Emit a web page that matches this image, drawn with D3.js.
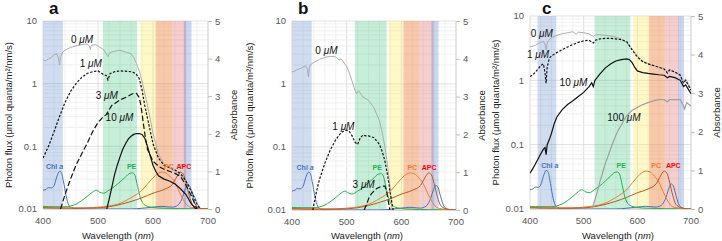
<!DOCTYPE html>
<html>
<head>
<meta charset="utf-8">
<script src="https://cdn.jsdelivr.net/npm/d3@7"></script>
<style>
  body { margin: 0; background: #fff; }
  svg { display: block; font-family: "Liberation Sans", Arial, sans-serif; }
</style>
</head>
<body>
<svg id="chart" width="722" height="241"></svg>
<script>
// ---- pigment absorbance spectra (right axis, same in every panel) ----
const chlWl = [400,405,410,415,420,425,430,433,437,442,447,452,460,500,560,580,600,615,625,635,645,652,658,663,667,672,678,685,690,700];
const chlAbs = [0.5,0.52,0.57,0.56,0.62,0.85,1.0,0.98,0.75,0.35,0.1,0.03,0.01,0,0,0.02,0.05,0.07,0.06,0.05,0.1,0.25,0.5,0.65,0.6,0.35,0.1,0.02,0.01,0];
const peWl = [400,420,440,450,460,470,480,490,497,503,510,520,530,540,550,558,563,567,572,577,582,590,600,620,650,700];
const peAbs = [0.07,0.06,0.06,0.08,0.13,0.22,0.33,0.45,0.5,0.45,0.42,0.5,0.6,0.72,0.85,0.95,0.96,0.9,0.6,0.3,0.15,0.07,0.04,0.02,0.01,0];
const pcWl = [400,450,480,500,520,540,560,580,595,605,615,622,630,640,648,655,662,670,680,700];
const pcAbs = [0.04,0.03,0.03,0.05,0.08,0.15,0.3,0.5,0.75,0.9,0.98,0.97,0.88,0.7,0.45,0.25,0.1,0.04,0.02,0];
const apcWl = [400,450,500,520,540,560,580,600,620,635,643,650,655,660,666,672,680,690,700];
const apcAbs = [0.03,0.02,0.03,0.06,0.12,0.2,0.3,0.42,0.52,0.65,0.85,0.98,0.93,0.7,0.35,0.12,0.04,0.01,0];

const pigmentNames = ["Chl a", "PE", "PC", "APC"];

// ---- panel a: photon flux (left axis, log) ----
const aWl0 = [400,405,410,415,420,425,428,430,432,436,440,450,460,470,480,484,486,488,495,500,510,515,518,521,525,530,540,550,560,565,570,575,580,585,590,600,610,620,630,640,650,660,670,680,685];
const aFlux0 = [2.4,2.3,2.5,2.6,2.9,3.0,2.6,2.0,2.7,3.2,3.4,3.8,4.0,4.2,4.3,4.0,3.5,4.1,4.2,4.0,3.5,3.0,2.7,3.1,3.2,3.3,3.4,3.2,3.0,2.6,2.1,1.6,1.1,0.7,0.45,0.16,0.075,0.052,0.045,0.04,0.035,0.028,0.02,0.013,0.01];
const aWl1 = [400,410,420,430,440,450,460,470,480,490,500,505,510,515,518,522,530,540,550,560,565,570,575,580,585,590,600,610,620,630,640,650,660,670,680,686];
const aFlux1 = [0.065,0.1,0.17,0.3,0.5,0.75,1.0,1.25,1.45,1.55,1.6,1.5,1.4,1.35,1.15,1.45,1.55,1.6,1.58,1.55,1.5,1.4,1.2,0.8,0.45,0.28,0.11,0.065,0.05,0.046,0.042,0.037,0.028,0.019,0.012,0.01];
const aWl3 = [432,440,450,460,470,480,490,500,510,515,520,525,530,540,550,560,565,570,575,578,582,586,590,600,610,620,630,640,650,660,670,680];
const aFlux3 = [0.01,0.017,0.03,0.05,0.075,0.11,0.17,0.24,0.3,0.32,0.38,0.45,0.48,0.55,0.6,0.67,0.7,0.7,0.6,0.45,0.25,0.14,0.09,0.058,0.048,0.043,0.04,0.037,0.033,0.024,0.016,0.01];
const aWl10 = [516,520,525,530,535,540,545,550,555,560,565,570,575,580,585,590,595,600,605,610,620,630,640,650,660,670,678];
const aFlux10 = [0.01,0.014,0.022,0.035,0.05,0.068,0.09,0.11,0.13,0.145,0.155,0.16,0.16,0.155,0.135,0.1,0.07,0.05,0.04,0.034,0.03,0.028,0.025,0.021,0.017,0.012,0.01];
const aConc = ["0", "1", "3", "10"];
const aLabelWl = [471, 487, 516, 539];
const aLabelFlux = [5.2, 2.1, 0.67, 0.29];
const aBandStart = [400, 509, 577, 605, 635, 656];
const aBandEnd = [436, 571, 605, 635, 660, 670];
const aPigLabelWl = [421, 561, 629, 656];

// ---- panel b ----
const bWl0 = [400,405,410,415,420,425,428,430,432,436,440,450,460,470,480,486,490,500,505,510,515,518,522,530,540,550,560,565,570,575,580,583];
const bFlux0 = [1.55,1.6,1.7,1.75,1.85,1.95,1.7,1.3,1.9,2.1,2.2,2.45,2.65,2.75,2.7,2.4,2.5,1.9,1.5,1.1,0.8,0.7,0.78,0.62,0.55,0.42,0.26,0.17,0.1,0.05,0.02,0.01];
const bWl1 = [438,445,450,460,470,480,490,495,500,505,510,515,520,525,530,535,540,550,560,565,570,575,580,585];
const bFlux1 = [0.01,0.02,0.03,0.055,0.09,0.13,0.17,0.18,0.185,0.175,0.15,0.12,0.11,0.14,0.155,0.15,0.15,0.14,0.11,0.085,0.06,0.035,0.018,0.01];
const bWl3 = [532,536,540,545,550,555,560,565,570,573,576,579];
const bFlux3 = [0.01,0.012,0.015,0.018,0.02,0.022,0.023,0.024,0.024,0.02,0.014,0.01];
const bConc = ["0", "1", "3"];
const bLabelWl = [463, 494, 531];
const bLabelFlux = [3.5, 0.215, 0.026];
const bBandStart = [400, 515, 577, 604, 633, 655];
const bBandEnd = [436, 573, 604, 633, 659, 668];
const bPigLabelWl = [424, 556, 620, 651];

// ---- panel c ----
const cWl0 = [400,410,420,425,428,430,432,436,440,450,460,470,480,486,490,500,510,518,522,530,540,550,560,570,580,590,600,610,620,630,640,650,656,660,670,680,686,688,690,700];
const cFlux0 = [3.3,3.5,3.9,4.0,3.6,3.0,3.8,4.3,4.6,5.0,5.3,5.5,5.7,5.2,5.6,5.5,5.3,4.8,5.1,5.1,5.0,4.9,4.7,4.4,3.9,3.1,2.4,2.0,1.8,1.7,1.6,1.5,1.35,1.45,1.35,1.2,0.9,1.0,1.05,0.75];
const cWl1 = [400,405,410,415,420,425,428,430,432,436,440,450,460,470,480,490,500,510,518,522,530,540,550,560,570,580,590,600,610,620,630,640,650,656,660,670,680,686,690,700];
const cFlux1 = [1.15,1.2,1.35,1.5,1.7,1.8,1.3,0.9,1.6,2.2,2.4,2.7,3.0,3.3,3.6,3.9,4.1,4.2,3.8,4.2,4.4,4.5,4.5,4.4,4.3,4.0,3.0,2.3,1.95,1.8,1.7,1.6,1.5,1.3,1.45,1.35,1.2,0.9,1.0,0.7];
const cWl10 = [400,405,410,415,420,425,428,430,432,436,440,445,450,460,470,480,490,500,510,515,518,521,525,530,540,550,560,570,580,585,590,595,600,610,620,630,640,650,656,660,670,680,686,690,700];
const cFlux10 = [0.036,0.042,0.05,0.06,0.072,0.085,0.09,0.07,0.1,0.12,0.15,0.21,0.27,0.35,0.42,0.48,0.56,0.65,0.8,0.92,0.8,1.0,1.1,1.25,1.55,1.8,2.0,2.1,2.15,2.1,1.9,1.6,1.4,1.32,1.28,1.25,1.22,1.2,1.1,1.15,1.1,1.0,0.8,0.85,0.62];
const cWl100 = [516,520,525,530,535,540,545,550,555,560,565,570,575,580,590,600,610,620,630,640,650,656,660,670,680,686,688,692,700];
const cFlux100 = [0.01,0.013,0.018,0.026,0.036,0.05,0.065,0.085,0.11,0.14,0.17,0.2,0.24,0.28,0.34,0.38,0.42,0.45,0.48,0.5,0.5,0.46,0.5,0.5,0.5,0.4,0.36,0.45,0.4];
const cConc = ["0", "1", "10", "100"];
const cLabelWl = [422, 415, 481, 575];
const cLabelFlux = [5.4, 2.6, 0.95, 0.27];
const cBandStart = [414, 521, 592, 622, 651, 676];
const cBandEnd = [449, 587, 622, 651, 677, 687];
const cPigLabelWl = [437, 570, 635, 667];

// ---- styles ----
const bandFill = ["#4472c4", "#00b050", "#ffe94a", "#ed7d31", "#e06666", "#4472c4"];
const bandOpacity = [0.25, 0.22, 0.3, 0.42, 0.32, 0.28];
const pigColor = ["#4472c4", "#22b24c", "#ed7d31", "#b55a1e"];
const pigLabelColor = ["#4472c4", "#22b24c", "#ed7d31", "#ff0000"];
const fluxStyle = {
  "0":   { stroke: "#a6a6a6", width: 0.9, dash: null },
  "1":   { stroke: "#111", width: 1.2, dash: "2.4,1.6" },
  "3":   { stroke: "#111", width: 1.2, dash: "5.5,2.5" },
  "10":  { stroke: "#111", width: 1.2, dash: null },
  "100": { stroke: "#a0a0a0", width: 1.2, dash: null },
};

const zip = (xs, ys) => xs.map((w, i) => [w, ys[i]]);

const panels = [
  { id: "a", left: 43, right: 208, top: 21, bottom: 209, titleX: 118, yTitleX: 8, letterX: 49, letterY: 14,
    flux: [zip(aWl0, aFlux0), zip(aWl1, aFlux1), zip(aWl3, aFlux3), zip(aWl10, aFlux10)],
    conc: aConc, labelWl: aLabelWl, labelFlux: aLabelFlux,
    bandStart: aBandStart, bandEnd: aBandEnd, pigLabelWl: aPigLabelWl },
  { id: "b", left: 292, right: 456, top: 21, bottom: 210, titleX: 367, yTitleX: 249, letterX: 298, letterY: 14,
    flux: [zip(bWl0, bFlux0), zip(bWl1, bFlux1), zip(bWl3, bFlux3)],
    conc: bConc, labelWl: bLabelWl, labelFlux: bLabelFlux,
    bandStart: bBandStart, bandEnd: bBandEnd, pigLabelWl: bPigLabelWl },
  { id: "c", left: 530, right: 691, top: 16, bottom: 209, titleX: 618, yTitleX: 495, letterX: 542, letterY: 14,
    flux: [zip(cWl0, cFlux0), zip(cWl1, cFlux1), zip(cWl10, cFlux10), zip(cWl100, cFlux100)],
    conc: cConc, labelWl: cLabelWl, labelFlux: cLabelFlux,
    bandStart: cBandStart, bandEnd: cBandEnd, pigLabelWl: cPigLabelWl },
];

const pigments = [zip(chlWl, chlAbs), zip(peWl, peAbs), zip(pcWl, pcAbs), zip(apcWl, apcAbs)];

const svg = d3.select("#chart");

function drawPanel(p) {
  const x = d3.scaleLinear().domain([400, 700]).range([p.left, p.right]);
  const y = d3.scaleLog().domain([0.01, 10]).range([p.bottom, p.top]);
  const yAbs = d3.scaleLinear().domain([0, 5]).range([p.bottom, p.top]);
  const g = svg.append("g").attr("class", "panel-" + p.id);

  // clip region for the curves
  svg.append("clipPath").attr("id", "clip-" + p.id)
    .append("rect")
    .attr("x", p.left).attr("y", p.top)
    .attr("width", p.right - p.left).attr("height", p.bottom - p.top);

  // grid
  g.selectAll("line.gx").data(d3.range(420, 700, 20)).join("line")
    .attr("class", "gx")
    .attr("x1", x).attr("x2", x).attr("y1", p.top).attr("y2", p.bottom)
    .attr("stroke", (d) => (d % 100 === 0 ? "#d9d9d9" : "#eeeeee")).attr("stroke-width", 0.8);
  g.selectAll("line.gy").data(y.ticks()).join("line")
    .attr("class", "gy")
    .attr("x1", p.left).attr("x2", p.right).attr("y1", y).attr("y2", y)
    .attr("stroke", (d) => (Math.abs(Math.log10(d) % 1) < 1e-6 ? "#d9d9d9" : "#eeeeee")).attr("stroke-width", 0.8);

  // coloured pigment bands
  g.selectAll("rect.band").data(p.bandStart).join("rect")
    .attr("class", "band")
    .attr("x", (d) => x(d))
    .attr("width", (d, i) => x(p.bandEnd[i]) - x(d))
    .attr("y", p.top).attr("height", p.bottom - p.top)
    .attr("fill", (d, i) => bandFill[i]).attr("fill-opacity", (d, i) => bandOpacity[i]);

  // axes lines
  g.append("line").attr("x1", p.left).attr("x2", p.left).attr("y1", p.top).attr("y2", p.bottom)
    .attr("stroke", "#d0d0d0").attr("stroke-width", 0.8);
  g.append("line").attr("x1", p.left).attr("x2", p.right).attr("y1", p.bottom).attr("y2", p.bottom)
    .attr("stroke", "#bfbfbf").attr("stroke-width", 0.8);
  g.append("line").attr("x1", p.right).attr("x2", p.right).attr("y1", p.top).attr("y2", p.bottom)
    .attr("stroke", "#bfbfbf").attr("stroke-width", 0.8);

  const curves = g.append("g").attr("clip-path", "url(#clip-" + p.id + ")");

  // pigment absorbance
  const absLine = d3.line().x((d) => x(d[0])).y((d) => yAbs(d[1])).curve(d3.curveMonotoneX);
  curves.selectAll("path.pig").data(pigments).join("path")
    .attr("class", "pig")
    .attr("d", absLine)
    .attr("fill", "none")
    .attr("stroke", (d, i) => pigColor[i])
    .attr("stroke-width", 1);

  // photon flux spectra
  const fluxLine = d3.line().x((d) => x(d[0])).y((d) => y(d[1])).curve(d3.curveLinear);
  curves.selectAll("path.flux").data(p.flux).join("path")
    .attr("class", "flux")
    .attr("d", fluxLine)
    .attr("fill", "none")
    .attr("stroke", (d, i) => fluxStyle[p.conc[i]].stroke)
    .attr("stroke-width", (d, i) => fluxStyle[p.conc[i]].width)
    .attr("stroke-dasharray", (d, i) => fluxStyle[p.conc[i]].dash);

  // concentration labels
  const lab = g.selectAll("text.conc").data(p.conc).join("text")
    .attr("class", "conc")
    .attr("x", (d, i) => x(p.labelWl[i]))
    .attr("y", (d, i) => y(p.labelFlux[i]))
    .attr("text-anchor", "middle").attr("dominant-baseline", "central")
    .attr("font-size", 10).attr("fill", "#111");
  lab.append("tspan").text((d) => d + " ");
  lab.append("tspan").attr("font-style", "italic").text("\u03bcM");

  // pigment labels
  const pl = g.selectAll("text.pig").data(pigmentNames).join("text")
    .attr("class", "pig")
    .attr("x", (d, i) => x(p.pigLabelWl[i]))
    .attr("y", yAbs(1.07))
    .attr("text-anchor", "middle")
    .attr("font-size", 7).attr("font-weight", "bold")
    .attr("fill", (d, i) => pigLabelColor[i]);
  pl.each(function (d) {
    const t = d3.select(this);
    if (d === "Chl a") {
      t.append("tspan").text("Chl ");
      t.append("tspan").attr("font-style", "italic").text("a");
    } else {
      t.text(d);
    }
  });

  // x axis ticks
  g.selectAll("text.xt").data([400, 500, 600, 700]).join("text")
    .attr("class", "xt")
    .attr("x", x).attr("y", p.bottom + 15)
    .attr("text-anchor", "middle").attr("font-size", 9.5).attr("fill", "#595959")
    .text((d) => d);

  // left axis ticks
  const yLabels = [0.01, 0.1, 1, 10];
  g.selectAll("text.yt").data(yLabels).join("text")
    .attr("class", "yt")
    .attr("x", p.left - 6).attr("y", y).attr("dy", "0.35em")
    .attr("text-anchor", "end").attr("font-size", 9.5).attr("fill", "#595959")
    .text((d) => d);

  // right axis
  const ra = g.append("g").attr("transform", "translate(" + p.right + ",0)")
    .call(d3.axisRight(yAbs).ticks(5).tickSize(4).tickPadding(3).tickFormat(d3.format("d")));
  ra.select(".domain").remove();
  ra.selectAll("line").attr("stroke", "#bfbfbf");
  ra.selectAll("text").attr("font-size", 9.5).attr("fill", "#595959")
    .attr("font-family", "Liberation Sans, Arial, sans-serif");

  // titles
  const xt = g.append("text").attr("x", p.titleX).attr("y", 239)
    .attr("text-anchor", "middle").attr("font-size", 9.5).attr("fill", "#222");
  xt.append("tspan").text("Wavelength (");
  xt.append("tspan").attr("font-style", "italic").text("nm");
  xt.append("tspan").text(")");

  const midY = (p.top + p.bottom) / 2;
  g.append("text")
    .attr("transform", "translate(" + p.yTitleX + "," + midY + ") rotate(-90)")
    .attr("text-anchor", "middle").attr("dominant-baseline", "central")
    .attr("font-size", 9.5).attr("fill", "#222")
    .text("Photon flux (\u03bcmol quanta/m\u00b2/nm/s)");

  g.append("text")
    .attr("transform", "translate(" + (p.right + 25) + "," + midY + ") rotate(-90)")
    .attr("text-anchor", "middle").attr("dominant-baseline", "central")
    .attr("font-size", 9.5).attr("fill", "#222")
    .text("Absorbance");

  // panel letter
  g.append("text").attr("x", p.letterX).attr("y", p.letterY)
    .attr("font-size", 17).attr("font-weight", "bold").attr("fill", "#111")
    .text(p.id);
}

panels.forEach(drawPanel);
</script>
</body>
</html>
